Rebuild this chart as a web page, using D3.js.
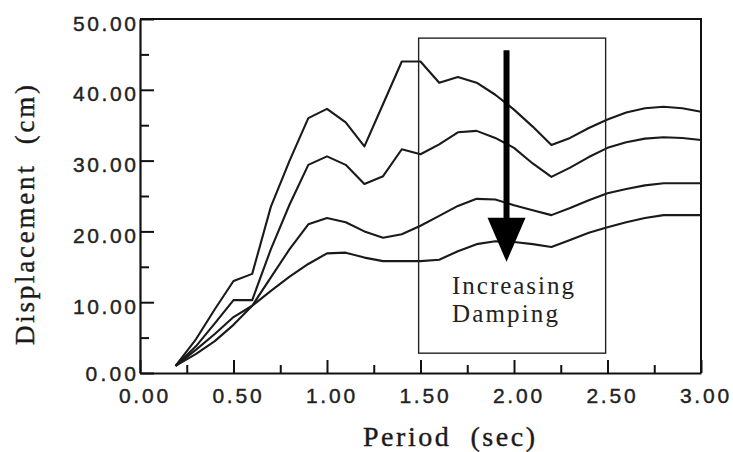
<!DOCTYPE html>
<html>
<head>
<meta charset="utf-8">
<script src="https://cdn.jsdelivr.net/npm/d3@7"></script>
<style>
  body { margin: 0; background: #fff; }
  svg { display: block; }
</style>
</head>
<body>
<svg width="733" height="452"></svg>
<script>
// periods (sec) where the spectra were read
const periods = [0.19, 0.3, 0.4, 0.5, 0.6, 0.7, 0.8, 0.9, 1.0, 1.1, 1.2, 1.3, 1.4, 1.5,
                 1.6, 1.7, 1.8, 1.9, 2.0, 2.1, 2.2, 2.3, 2.4, 2.5, 2.6, 2.7, 2.8, 2.9, 3.0];

// displacement (cm), lowest damping first
const damping1 = [1.0, 4.8, 9.0, 13.0, 14.0, 23.5, 30.0, 36.0, 37.3, 35.4, 32.0, 38.0, 44.0, 44.0,
                  41.0, 41.8, 41.0, 39.3, 37.2, 34.8, 32.2, 33.2, 34.6, 35.8, 36.8, 37.4, 37.6, 37.4, 36.9];
const damping2 = [1.0, 3.8, 7.0, 10.3, 10.3, 17.5, 23.8, 29.4, 30.6, 29.4, 26.7, 27.8, 31.6, 30.9,
                  32.3, 34.0, 34.2, 33.2, 31.8, 29.6, 27.7, 29.0, 30.5, 31.8, 32.6, 33.1, 33.3, 33.2, 32.9];
const damping3 = [1.0, 3.3, 5.5, 7.9, 9.5, 13.5, 17.5, 21.0, 21.9, 21.3, 20.0, 19.1, 19.6, 20.8,
                  22.2, 23.6, 24.6, 24.5, 23.7, 23.0, 22.3, 23.3, 24.4, 25.4, 26.0, 26.5, 26.8, 26.8, 26.8];
const damping4 = [1.0, 2.7, 4.5, 6.8, 9.5, 11.6, 13.6, 15.4, 16.9, 17.0, 16.3, 15.8, 15.8, 15.8,
                  16.0, 17.2, 18.2, 18.6, 18.5, 18.2, 17.8, 18.8, 19.8, 20.6, 21.3, 21.9, 22.3, 22.3, 22.3];

const xMajor = [0, 0.5, 1.0, 1.5, 2.0, 2.5, 3.0];
const xMinor = [0.25, 0.75, 1.25, 1.75, 2.25, 2.75];
const yMajor = [0, 10, 20, 30, 40, 50];
const yMinor = [5, 15, 25, 35, 45];

// annotation box and arrow, in data units
const boxPeriod = [1.49, 2.49];
const boxDisp = [2.8, 47.3];
const arrowPeriod = 1.96;
const arrowDisp = [45.6, 15.7];

var svg = d3.select("svg");

var x = d3.scaleLinear().domain([0, 3]).range([140, 701]);
var y = d3.scaleLinear().domain([0, 50]).range([373, 19]);

// frame top / right
svg.append("path")
    .attr("d", `M${x(0)},${y(50)}H${x(3)}V${y(0)}`)
    .attr("fill", "none").attr("stroke", "#111").attr("stroke-width", 2);

// minor ticks
svg.append("g").attr("transform", `translate(0,${y(0)})`)
    .call(d3.axisBottom(x).tickValues(xMinor).tickSize(-8).tickSizeOuter(0).tickFormat(""))
    .call(g => g.select(".domain").remove());
svg.append("g").attr("transform", `translate(${x(0)},0)`)
    .call(d3.axisLeft(y).tickValues(yMinor).tickSize(-9).tickSizeOuter(0).tickFormat(""))
    .call(g => g.select(".domain").remove());

// major ticks + labels
var fmt = d3.format(".2f");
var xAxis = svg.append("g").attr("transform", `translate(0,${y(0)})`)
    .call(d3.axisBottom(x).tickValues(xMajor).tickSize(-13).tickSizeOuter(0).tickFormat(fmt));
xAxis.selectAll("text")
    .attr("x", 3).attr("y", 30).attr("dy", null)
    .attr("textLength", d => fmt(d).length * 12.3).attr("lengthAdjust", "spacing");

var yAxis = svg.append("g").attr("transform", `translate(${x(0)},0)`)
    .call(d3.axisLeft(y).tickValues(yMajor).tickSize(-14).tickSizeOuter(0).tickFormat(fmt));
yAxis.selectAll("text")
    .attr("x", -4).attr("dy", null).attr("y", d => d === 0 ? 7 : 11)
    .attr("textLength", d => fmt(d).length * 12.6).attr("lengthAdjust", "spacing");

svg.selectAll(".tick line").attr("stroke", "#111").attr("stroke-width", 2);
svg.selectAll(".domain").attr("stroke", "#111").attr("stroke-width", 2.2);
svg.selectAll(".tick text")
    .attr("fill", "#222")
    .attr("stroke", "#222").attr("stroke-width", 0.4)
    .style("font-family", "'Liberation Sans', Arial, sans-serif")
    .style("font-size", "21px");

// spectra
var line = d3.line()
    .x((d, i) => x(periods[i]))
    .y(d => y(d));

[damping1, damping2, damping3, damping4].forEach(s => {
    svg.append("path")
        .datum(s)
        .attr("d", line)
        .attr("fill", "none")
        .attr("stroke", "#1a1a1a")
        .attr("stroke-width", 2.1)
        .attr("stroke-linejoin", "round");
});

// annotation box
svg.append("rect")
    .attr("x", x(boxPeriod[0]))
    .attr("y", y(boxDisp[1]))
    .attr("width", x(boxPeriod[1]) - x(boxPeriod[0]))
    .attr("height", y(boxDisp[0]) - y(boxDisp[1]))
    .attr("fill", "none").attr("stroke", "#222").attr("stroke-width", 1.4);

// arrow
var ax = x(arrowPeriod);
svg.append("line")
    .attr("x1", ax).attr("x2", ax)
    .attr("y1", y(arrowDisp[0])).attr("y2", y(arrowDisp[1]) - 30)
    .attr("stroke", "#000").attr("stroke-width", 6);
svg.append("path")
    .attr("d", `M${ax - 19},${y(arrowDisp[1]) - 44} L${ax + 19},${y(arrowDisp[1]) - 44} L${ax},${y(arrowDisp[1])} Z`)
    .attr("fill", "#000");

// annotation text
var serif = "'Liberation Serif', 'Times New Roman', serif";
svg.append("text")
    .attr("x", 513).attr("y", 294)
    .attr("text-anchor", "middle")
    .attr("textLength", 122).attr("lengthAdjust", "spacing")
    .style("font-family", serif).style("font-size", "25px").attr("fill", "#222")
    .text("Increasing");
svg.append("text")
    .attr("x", 505).attr("y", 322)
    .attr("text-anchor", "middle")
    .attr("textLength", 106).attr("lengthAdjust", "spacing")
    .style("font-family", serif).style("font-size", "25px").attr("fill", "#222")
    .text("Damping");

// axis titles
svg.append("text")
    .attr("x", 449).attr("y", 446)
    .attr("text-anchor", "middle")
    .attr("textLength", 172).attr("lengthAdjust", "spacing")
    .style("font-family", serif).style("font-size", "28px").attr("fill", "#1a1a1a")
    .attr("stroke", "#1a1a1a").attr("stroke-width", 0.4)
    .style("white-space", "pre")
    .text("Period  (sec)");

svg.append("text")
    .attr("transform", "translate(34,215) rotate(-90)")
    .attr("text-anchor", "middle")
    .attr("textLength", 260).attr("lengthAdjust", "spacing")
    .style("font-family", serif).style("font-size", "27px").attr("fill", "#1a1a1a")
    .attr("stroke", "#1a1a1a").attr("stroke-width", 0.4)
    .style("white-space", "pre")
    .text("Displacement  (cm)");
</script>
</body>
</html>
